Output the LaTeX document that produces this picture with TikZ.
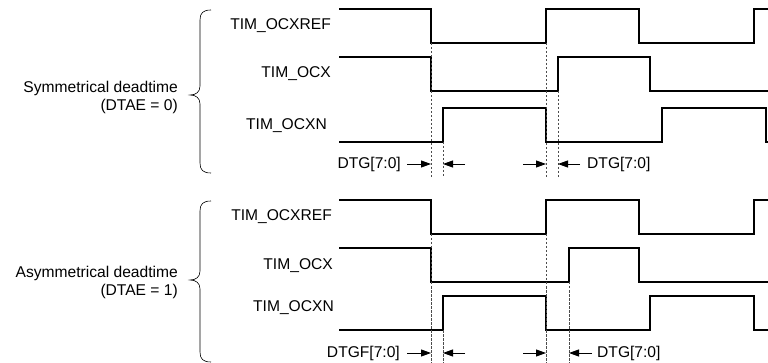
\documentclass[tikz,border=0pt]{standalone}
\usepackage{fontspec}
\setmainfont{Liberation Sans}
\usetikzlibrary{arrows.meta}
\begin{document}
\begin{tikzpicture}[x=1pt,y=-1pt,
  sig/.style={line width=1.2pt, line join=miter},
  guide/.style={line width=0.7pt, dash pattern=on 2.5pt off 1.5pt, black!70},
  dim/.style={line width=0.9pt, -{Triangle[length=10pt,width=7pt]}},
  lbl/.style={font=\fontsize{15.6}{18}\selectfont, inner sep=0pt},
  brc/.style={line width=0.6pt}]
\useasboundingbox (0,0) rectangle (768,363);
% ---------- top group ----------
\node[lbl, anchor=east, align=right] (symlbl) at (178,97) {Symmetrical deadtime\\(DTAE = 0)};
\draw[brc] (211,10) .. controls (203,10) and (200,13) .. (200,20) -- (200,86)
  .. controls (200,92) and (196,95) .. (190,95) .. controls (196,95) and (200,98) .. (200,104)
  -- (200,163) .. controls (200,170) and (203,173) .. (211,173);
\node[lbl, anchor=east] (refA) at (331,26) {TIM\_OCXREF};
\node[lbl, anchor=east] (ocxA) at (331,74) {TIM\_OCX};
\node[lbl, anchor=east] (ocxnA) at (327,126) {TIM\_OCXN};
\draw[sig] (339,9) -- (431,9) -- (431,43) -- (546,43) -- (546,9) -- (639,9) -- (639,43) -- (754,43) -- (754,9) -- (768,9);
\draw[sig] (339,57) -- (431,57) -- (431,91) -- (558,91) -- (558,57) -- (650,57) -- (650,91) -- (768,91);
\draw[sig] (339,142) -- (443,142) -- (443,108) -- (546,108) -- (546,142) -- (662,142) -- (662,108) -- (766,108) -- (766,142) -- (768,142);
\draw[guide] (431,43) -- (431,177);
\draw[guide] (443,142) -- (443,177);
\draw[guide] (546,43) -- (546,177);
\draw[guide] (558,91) -- (558,177);
\coordinate (a1s) at (407,164); \coordinate (a1e) at (431,164);
\coordinate (a2s) at (465,164); \coordinate (a2e) at (443,164);
\coordinate (a3s) at (523,164); \coordinate (a3e) at (546,164);
\coordinate (a4s) at (580,164); \coordinate (a4e) at (558,164);
\draw[dim] (a1s) -- (a1e);
\draw[dim] (a2s) -- (a2e);
\draw[dim] (a3s) -- (a3e);
\draw[dim] (a4s) -- (a4e);
\node[lbl, anchor=east] (dtgA) at (401,164) {DTG[7:0]};
\node[lbl, anchor=west] (dtgB) at (587,164) {DTG[7:0]};
% ---------- bottom group ----------
\node[lbl, anchor=east, align=right] (asymlbl) at (178,282) {Asymmetrical deadtime\\(DTAE = 1)};
\draw[brc] (211,201) .. controls (203,201) and (200,204) .. (200,211) -- (200,271)
  .. controls (200,277) and (196,280) .. (190,280) .. controls (196,280) and (200,283) .. (200,289)
  -- (200,352) .. controls (200,359) and (203,362) .. (211,362);
\node[lbl, anchor=east] (refB) at (332,217) {TIM\_OCXREF};
\node[lbl, anchor=east] (ocxB) at (333,266) {TIM\_OCX};
\node[lbl, anchor=east] (ocxnB) at (334,308) {TIM\_OCXN};
\draw[sig] (339,200) -- (431,200) -- (431,234) -- (546,234) -- (546,200) -- (639,200) -- (639,234) -- (754,234) -- (754,200) -- (768,200);
\draw[sig] (339,248) -- (431,248) -- (431,282) -- (569,282) -- (569,248) -- (639,248) -- (639,282) -- (768,282);
\draw[sig] (339,330) -- (443,330) -- (443,296) -- (546,296) -- (546,330) -- (650,330) -- (650,296) -- (754,296) -- (754,330) -- (768,330);
\draw[guide] (431,234) -- (431,363);
\draw[guide] (443,330) -- (443,363);
\draw[guide] (546,234) -- (546,363);
\draw[guide] (569,282) -- (569,363);
\coordinate (b1s) at (407,353); \coordinate (b1e) at (431,353);
\coordinate (b2s) at (465,353); \coordinate (b2e) at (443,353);
\coordinate (b3s) at (523,353); \coordinate (b3e) at (546,353);
\coordinate (b4s) at (592,353); \coordinate (b4e) at (569,353);
\draw[dim] (b1s) -- (b1e);
\draw[dim] (b2s) -- (b2e);
\draw[dim] (b3s) -- (b3e);
\draw[dim] (b4s) -- (b4e);
\node[lbl, anchor=east] (dtgfC) at (400,353) {DTGF[7:0]};
\node[lbl, anchor=west] (dtgD) at (597,353) {DTG[7:0]};
\end{tikzpicture}
\end{document}
